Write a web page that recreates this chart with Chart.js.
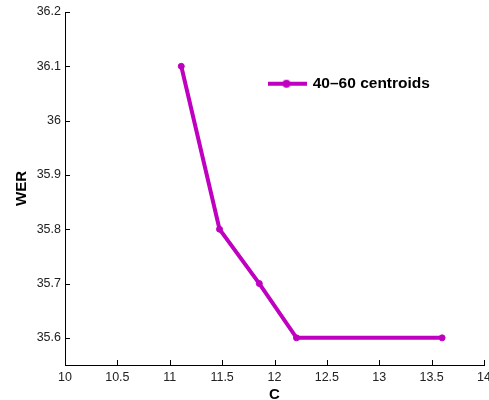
<!DOCTYPE html>
<html>
<head>
<meta charset="utf-8">
<title>WER vs C</title>
<script src="https://cdn.jsdelivr.net/npm/chart.js@4.4.1/dist/chart.umd.min.js"></script>
<style>
  html, body { margin: 0; padding: 0; background: #fff; }
  #wrap { width: 489px; height: 400px; }
</style>
</head>
<body>
<div id="wrap"><canvas id="werChart" width="489" height="400"></canvas></div>
<script>
// values
const cValues = [11.11, 11.475, 11.855, 12.21, 13.6];
const werValues = [36.1, 35.8, 35.7, 35.6, 35.6];
const xTicks = [10, 10.5, 11, 11.5, 12, 12.5, 13, 13.5, 14];
const yTicks = [35.6, 35.7, 35.8, 35.9, 36, 36.1, 36.2];
const seriesLabel = '40\u201360 centroids';

const MAGENTA = '#c000c0';
const FONT = 'Liberation Sans, Arial, Helvetica, sans-serif';

// line + marker swatch for the legend, like matlab draws it
function legendSwatch() {
  const c = document.createElement('canvas');
  c.width = 40; c.height = 12;
  const g = c.getContext('2d');
  g.strokeStyle = MAGENTA; g.lineWidth = 4;
  g.beginPath(); g.moveTo(0, 6); g.lineTo(40, 6); g.stroke();
  g.fillStyle = MAGENTA;
  g.beginPath(); g.arc(20, 6, 4, 0, Math.PI * 2); g.fill();
  return c;
}

// matlab style ticks pointing into the plot
const insideTicks = {
  id: 'insideTicks',
  afterDraw(chart) {
    const { ctx, chartArea: a, scales: { x, y } } = chart;
    ctx.save();
    ctx.strokeStyle = '#000'; ctx.lineWidth = 1;
    ctx.beginPath();
    xTicks.forEach(v => {
      const px = Math.round(x.getPixelForValue(v)) + 0.5;
      ctx.moveTo(px, a.bottom); ctx.lineTo(px, a.bottom - 5);
    });
    yTicks.forEach(v => {
      const py = Math.round(y.getPixelForValue(v)) + 0.5;
      ctx.moveTo(a.left, py); ctx.lineTo(a.left + 5, py);
    });
    ctx.stroke();
    ctx.restore();
  }
};

// park the legend where it sits in the figure
const legendSpot = {
  id: 'legendSpot',
  afterLayout(chart) {
    const l = chart.legend;
    if (!l) return;
    const w = l.width;
    l.left = 268; l.top = 76; l.right = l.left + w;
  }
};

const swatch = legendSwatch();

new Chart(document.getElementById('werChart'), {
  type: 'scatter',
  data: {
    datasets: [{
      label: seriesLabel,
      data: cValues.map((c, i) => ({ x: c, y: werValues[i] })),
      showLine: true,
      borderColor: MAGENTA,
      backgroundColor: MAGENTA,
      borderWidth: 4,
      pointRadius: 3,
      pointBorderWidth: 1,
      pointBackgroundColor: MAGENTA,
      pointBorderColor: MAGENTA,
      tension: 0
    }]
  },
  options: {
    responsive: false,
    animation: false,
    layout: { padding: { top: 12, right: 2, left: 0, bottom: 0 } },
    plugins: {
      tooltip: { enabled: false },
      legend: {
        position: 'chartArea',
        align: 'start',
        labels: {
          usePointStyle: true,
          pointStyleWidth: 37,
          padding: 0,
          color: '#000',
          font: { family: FONT, size: 15.5, weight: 'bold' },
          generateLabels: () => [{
            text: seriesLabel, pointStyle: swatch, fillStyle: MAGENTA,
            strokeStyle: MAGENTA, lineWidth: 0, hidden: false, datasetIndex: 0
          }]
        }
      }
    },
    scales: {
      x: {
        type: 'linear', min: 10, max: 14,
        afterBuildTicks: s => { s.ticks = xTicks.map(v => ({ value: v })); },
        afterFit: s => { s.height = 35; s.paddingLeft = 0; s.paddingRight = 0; },
        ticks: {
          color: '#222', padding: 5, maxRotation: 0, autoSkip: false,
          font: { family: FONT, size: 12.5 },
          callback: v => String(v)
        },
        grid: { drawOnChartArea: false, drawTicks: false },
        border: { color: '#000', width: 1 },
        title: {
          display: true, text: 'C', color: '#000',
          font: { family: FONT, size: 15, weight: 'bold', lineHeight: 1 },
          padding: { top: 0, bottom: -2.5 }
        }
      },
      y: {
        type: 'linear', min: 35.55, max: 36.2,
        afterBuildTicks: s => { s.ticks = yTicks.map(v => ({ value: v })); },
        afterFit: s => { s.width = 65; s.paddingTop = 0; s.paddingBottom = 0; },
        ticks: {
          color: '#222', padding: 4, autoSkip: false,
          font: { family: FONT, size: 12.5 },
          callback: v => String(v)
        },
        grid: { drawOnChartArea: false, drawTicks: false },
        border: { color: '#000', width: 1 },
        title: {
          display: true, text: 'WER', color: '#000',
          font: { family: FONT, size: 15, weight: 'bold', lineHeight: 1.2 },
          padding: { top: 13, bottom: 0 }
        }
      }
    }
  },
  plugins: [insideTicks, legendSpot]
});
</script>
</body>
</html>
